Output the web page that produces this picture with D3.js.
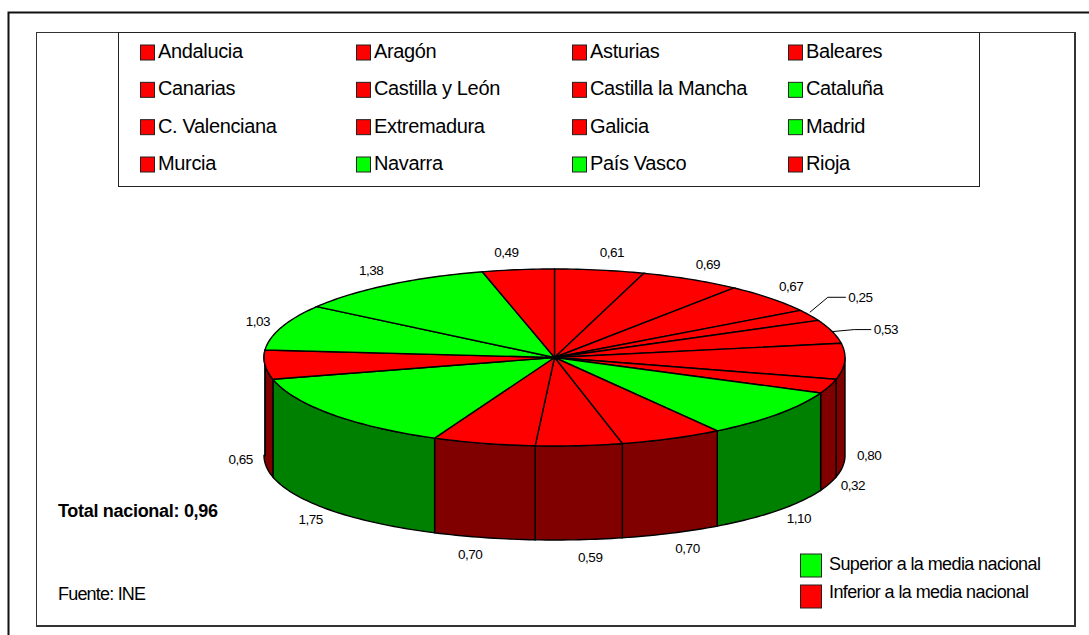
<!DOCTYPE html>
<html><head><meta charset="utf-8">
<script src="https://cdn.jsdelivr.net/npm/d3@7/dist/d3.min.js"></script>
<style>html,body{margin:0;padding:0;background:#fff}svg{display:block}text{font-family:"Liberation Sans",Arial,sans-serif;fill:#000}</style>
</head><body><svg id="c" width="1089" height="635"></svg>
<script>
const categories=["Andalucia","Aragón","Asturias","Baleares","Canarias","Castilla y León","Castilla la Mancha","Cataluña","C. Valenciana","Extremadura","Galicia","Madrid","Murcia","Navarra","País Vasco","Rioja"];
const values=[0.61,0.69,0.67,0.25,0.53,0.80,0.32,1.10,0.70,0.59,0.70,1.75,0.65,1.03,1.38,0.49];
const nationalTotal=0.96;
const keyLabels=["Superior a la media nacional","Inferior a la media nacional"];
const fmt=v=>v.toFixed(2).replace(".",",");

const svg=d3.select("#c");
const cx=554.5,cy=357.5,rx=290.5,ry=88.5,depth=94;
const TOP="#ff0000",TOPG="#00ff00",WALL="#800000",WALLG="#008000";
const hi=v=>v>nationalTotal;
const px=a=>cx+rx*Math.sin(a), py=a=>cy-ry*Math.cos(a);
const line=d3.line();

// frames
svg.append("path").attr("d","M8.5,635V12.5H1089").attr("fill","none").attr("stroke","#111").attr("stroke-width",2);
svg.append("rect").attr("x",36.5).attr("y",32.5).attr("width",1038).attr("height",593).attr("fill","#fff").attr("stroke","#333").attr("stroke-width",1);
svg.append("path").attr("d","M36,626H1075V32").attr("fill","none").attr("stroke","#333").attr("stroke-width",2);
svg.append("rect").attr("x",118.5).attr("y",32.5).attr("width",861).attr("height",154).attr("fill","#fff").attr("stroke","#222").attr("stroke-width",1);

// legend
const colX=d3.scalePoint().domain(d3.range(4)).range([140.5,788.5]);
const rowY=d3.scalePoint().domain(d3.range(4)).range([52,164]);
const lg=svg.append("g").selectAll("g").data(categories).join("g")
 .attr("transform",(d,i)=>`translate(${colX(i%4)},${rowY(Math.floor(i/4))})`);
lg.append("rect").attr("x",0).attr("y",-7).attr("width",14).attr("height",15)
 .attr("fill",(d,i)=>hi(values[i])?TOPG:TOP).attr("stroke","#222").attr("stroke-width",1);
lg.append("text").attr("x",17.5).attr("y",6).attr("font-size",20).attr("letter-spacing",-0.35).text(d=>d);

// pie
const pie=d3.pie().sort(null).value(d=>d)(values);
const arcPts=(a0,a1,f)=>{const n=Math.max(2,Math.ceil((a1-a0)/0.02));return d3.range(n+1).map(i=>{const a=a0+(a1-a0)*i/n;return [px(a),f(a)]})};
const vis0=Math.PI/2, vis1=Math.PI*1.5+0.09;
const botY=a=>{const c=Math.min(a,Math.PI*1.5),s=Math.sin(c);return py(c)+depth+4*s*s};
const walls=svg.append("g");
pie.forEach((s,i)=>{
  const a0=Math.max(s.startAngle,vis0),a1=Math.min(s.endAngle,vis1);
  if(a1<=a0)return;
  const t=arcPts(a0,a1,py), b=arcPts(a0,a1,botY).reverse();
  walls.append("path").attr("d",line(t.concat(b))+"Z").attr("fill",hi(values[i])?WALLG:WALL).attr("stroke","#000").attr("stroke-width",1.4);
});
const tops=svg.append("g");
pie.forEach((s,i)=>{
  const t=arcPts(s.startAngle,s.endAngle,py);
  tops.append("path").attr("d",line([[cx,cy]].concat(t))+"Z").attr("fill",hi(values[i])?TOPG:TOP).attr("stroke","#000").attr("stroke-width",1.4);
});

// value labels
const mid=s=>(s.startAngle+s.endAngle)/2;
const lblG=svg.append("g").attr("font-size",13.5);
const leaders={3:{dx:[18,36],dy:-15,off:2.5},4:{dx:[22,39],dy:-2,off:2.5}};
pie.forEach((s,i)=>{
  const a=mid(s),sn=Math.sin(a),cs=Math.cos(a);
  if(leaders[i]){
    const L=leaders[i],x0=px(a),y0=py(a)-3*(i==3?1:0);
    const p=[[x0,y0],[x0+L.dx[0],y0+L.dy],[x0+L.dx[1],y0+L.dy]];
    lblG.append("path").attr("d",line(p)).attr("fill","none").attr("stroke","#000").attr("stroke-width",1);
    lblG.append("text").attr("x",p[2][0]+L.off).attr("y",p[2][1]+4.5).attr("letter-spacing",-0.5).text(fmt(values[i]));
    return;
  }
  const x=cx+305*sn+10*Math.sign(sn);
  const y=cy-107*cs+(cs<0||sn>0.99?92:0);
  lblG.append("text").attr("x",x).attr("y",y+5.5).attr("text-anchor","middle").attr("letter-spacing",-0.5).text(fmt(values[i]));
});

// notes
svg.append("text").attr("x",58).attr("y",517).attr("font-size",18).attr("font-weight","bold").attr("letter-spacing",-0.3).text("Total nacional: "+fmt(nationalTotal));
svg.append("text").attr("x",58).attr("y",600).attr("font-size",18).attr("letter-spacing",-0.8).text("Fuente: INE");

// key
const keyY=d3.scalePoint().domain([0,1]).range([565.5,596.5]);
const key=svg.append("g").selectAll("g").data(keyLabels).join("g").attr("transform",(d,i)=>`translate(800.5,${keyY(i)})`);
key.append("rect").attr("x",0).attr("y",-11.5).attr("width",21).attr("height",23).attr("fill",(d,i)=>i?TOP:TOPG).attr("stroke","#222").attr("stroke-width",1);
key.append("text").attr("x",28.5).attr("y",(d,i)=>i?1.5:4.5).attr("font-size",18).attr("letter-spacing",-0.6).text(d=>d);
</script></body></html>
